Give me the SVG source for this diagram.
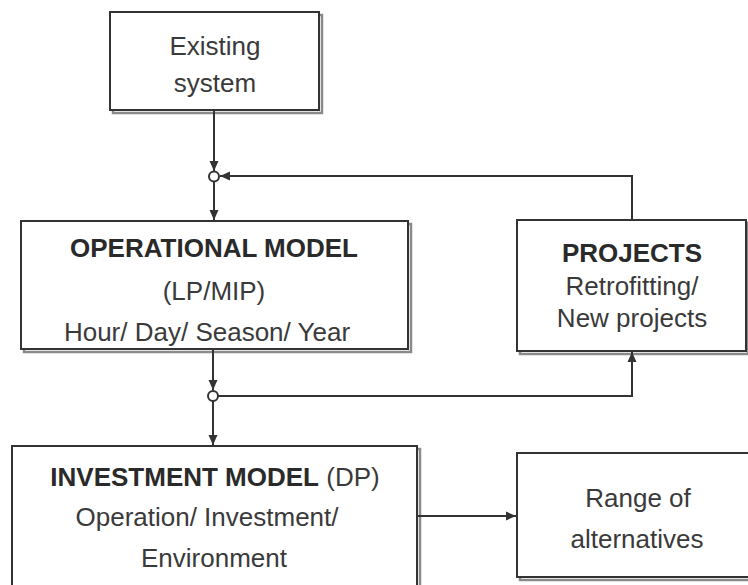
<svg xmlns="http://www.w3.org/2000/svg" width="748" height="585" viewBox="0 0 748 585">
<style>
.box{fill:#fff;stroke:#333;stroke-width:2}
.sh{fill:none;stroke:#8a8a8a;stroke-width:2.5}
.t{font-family:"Liberation Sans",Arial,sans-serif;font-size:26px;fill:#3a3a3a;text-anchor:middle}
.b{font-weight:bold;fill:#2a2a2a}
.c{fill:none;stroke:#333;stroke-width:2}
.j{fill:#fff;stroke:#333;stroke-width:2}
</style>
<defs>
<marker id="ar" markerUnits="userSpaceOnUse" markerWidth="10" markerHeight="10" viewBox="0 0 10 10" refX="10" refY="5" orient="auto">
<path d="M0,0.5 L10,5 L0,9.5 Z" fill="#333"/>
</marker>
</defs>
<g id="existing">
<rect class="sh" x="113" y="15" width="209" height="98"/>
<rect class="box" x="110" y="12" width="209" height="98"/>
<text class="t" x="215" y="55">Existing</text>
<text class="t" x="215" y="92">system</text>
</g>
<g id="operational">
<rect class="sh" x="24" y="224" width="387" height="128"/>
<rect class="box" x="21" y="221" width="387" height="128"/>
<text class="t b" x="214" y="257">OPERATIONAL MODEL</text>
<text class="t" x="214" y="300">(LP/MIP)</text>
<text class="t" x="207" y="341">Hour/ Day/ Season/ Year</text>
</g>
<g id="projects">
<rect class="sh" x="520" y="223" width="228" height="131"/>
<rect class="box" x="517" y="220" width="229" height="131"/>
<text class="t b" x="632" y="262">PROJECTS</text>
<text class="t" x="632" y="295">Retrofitting/</text>
<text class="t" x="632" y="327">New projects</text>
</g>
<g id="investment">
<rect class="sh" x="15" y="449" width="405" height="150"/>
<rect class="box" x="12" y="446" width="405" height="150"/>
<text class="t" x="215" y="486"><tspan class="b">INVESTMENT MODEL</tspan> (DP)</text>
<text class="t" x="207" y="526">Operation/ Investment/</text>
<text class="t" x="214" y="567">Environment</text>
</g>
<g id="range">
<rect class="sh" x="520" y="456" width="240" height="124"/>
<rect class="box" x="517" y="453" width="240" height="124"/>
<text class="t" x="638" y="507">Range of</text>
<text class="t" x="637" y="548">alternatives</text>
</g>
<g id="connectors">
<line class="c" x1="214" y1="110" x2="214" y2="171" marker-end="url(#ar)"/>
<polyline class="c" points="632,220 632,176 220,176" marker-end="url(#ar)"/>
<line class="c" x1="214" y1="182" x2="214" y2="220" marker-end="url(#ar)"/>
<circle class="j" cx="214" cy="176.5" r="5"/>
<line class="c" x1="213" y1="350" x2="213" y2="390" marker-end="url(#ar)"/>
<line class="c" x1="213" y1="401" x2="213" y2="445" marker-end="url(#ar)"/>
<polyline class="c" points="218,396 632,396 632,352" marker-end="url(#ar)"/>
<circle class="j" cx="213" cy="396" r="5"/>
<line class="c" x1="417" y1="516" x2="516" y2="516" marker-end="url(#ar)"/>
</g>
</svg>
